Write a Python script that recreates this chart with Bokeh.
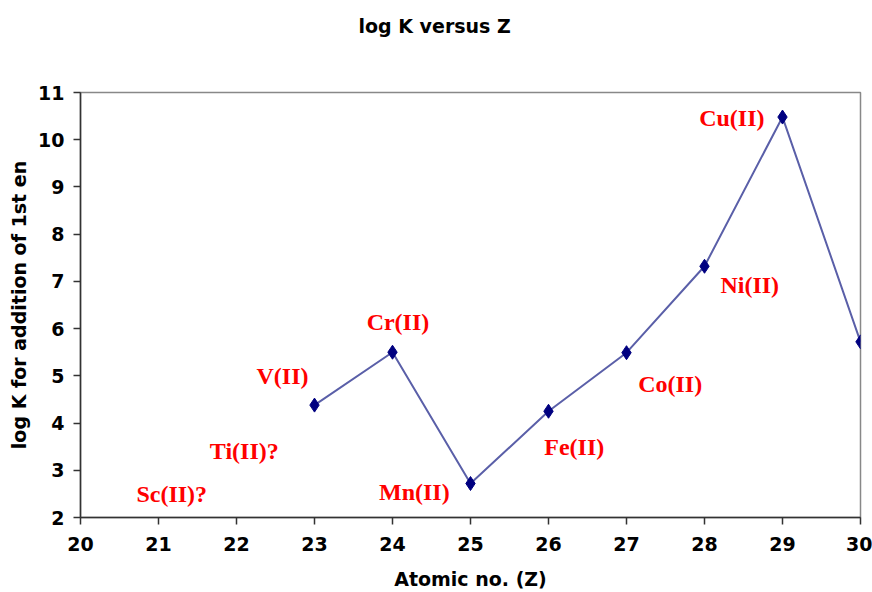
from bokeh.plotting import figure
from bokeh.models import ColumnDataSource, FixedTicker, Range1d
from bokeh.core.properties import value
from bokeh.embed import file_html
from bokeh.resources import INLINE

# data
z = [23, 24, 25, 26, 27, 28, 29, 30]
logk = [4.38, 5.5, 2.72, 4.25, 5.49, 7.32, 10.48, 5.72]

label_text = ["V(II)", "Cr(II)", "Mn(II)", "Fe(II)", "Co(II)", "Ni(II)", "Cu(II)", "Ti(II)?", "Sc(II)?"]
label_x = [22.59, 24.07, 24.28, 26.33, 27.56, 28.58, 28.35, 22.10, 21.17]
label_y = [4.99, 6.13, 2.55, 3.50, 4.82, 6.93, 10.47, 3.40, 2.49]

x_ticks = list(range(20, 31))
y_ticks = list(range(2, 12))

AX_FONT = "DejaVu Sans"

p = figure(width=872, height=592, output_backend="svg", toolbar_location=None,
           x_range=Range1d(20, 30), y_range=Range1d(2, 11),
           min_border_left=80, min_border_right=12, min_border_top=92, min_border_bottom=75)

p.title.text = "log K versus Z\n\u00a0\n\u00a0"
p.title.align = "left"
p.title.offset = 278
p.title.vertical_align = "top"
p.title.standoff = 20
p.title.text_font = AX_FONT
p.title.text_font_style = "bold"
p.title.text_font_size = "19px"
p.title.text_color = "black"

p.xgrid.visible = False
p.ygrid.visible = False
p.outline_line_color = "#888888"
p.outline_line_width = 1.5

for ax in (p.xaxis[0], p.yaxis[0]):
    ax.axis_line_color = "#333333"
    ax.axis_line_width = 1.5
    ax.major_tick_line_color = "#333333"
    ax.major_tick_line_width = 1.5
    ax.major_tick_in = 0
    ax.major_tick_out = 7
    ax.minor_tick_line_color = None
    ax.major_label_text_font = AX_FONT
    ax.major_label_text_font_style = "bold"
    ax.major_label_text_font_size = "19px"
    ax.major_label_text_color = "black"
    ax.axis_label_text_font = AX_FONT
    ax.axis_label_text_font_style = "bold"
    ax.axis_label_text_font_size = "19px"
    ax.axis_label_text_color = "black"

p.xaxis.ticker = FixedTicker(ticks=x_ticks)
p.yaxis.ticker = FixedTicker(ticks=y_ticks)
p.xaxis.axis_label = "Atomic no. (Z)"
p.yaxis.axis_label = "log K for addition of 1st en"
p.xaxis.major_label_standoff = 12
p.yaxis.major_label_standoff = 9
p.xaxis.axis_label_standoff = 14
p.yaxis.axis_label_standoff = 5

src = ColumnDataSource(dict(x=z, y=logk))
p.line("x", "y", source=src, line_color="#5a5fa8", line_width=2)
p.scatter("x", "y", source=src, marker="diamond", size=14, fill_color="#000080", line_color="#000080")

lsrc = ColumnDataSource(dict(x=label_x, y=label_y, t=label_text))
p.text("x", "y", text="t", source=lsrc, text_color="#ff0000",
       text_font=value("Liberation Serif"), text_font_style="bold", text_font_size="24px",
       text_align="center", text_baseline="middle")

open("out.html", "w").write(file_html(p, INLINE))
